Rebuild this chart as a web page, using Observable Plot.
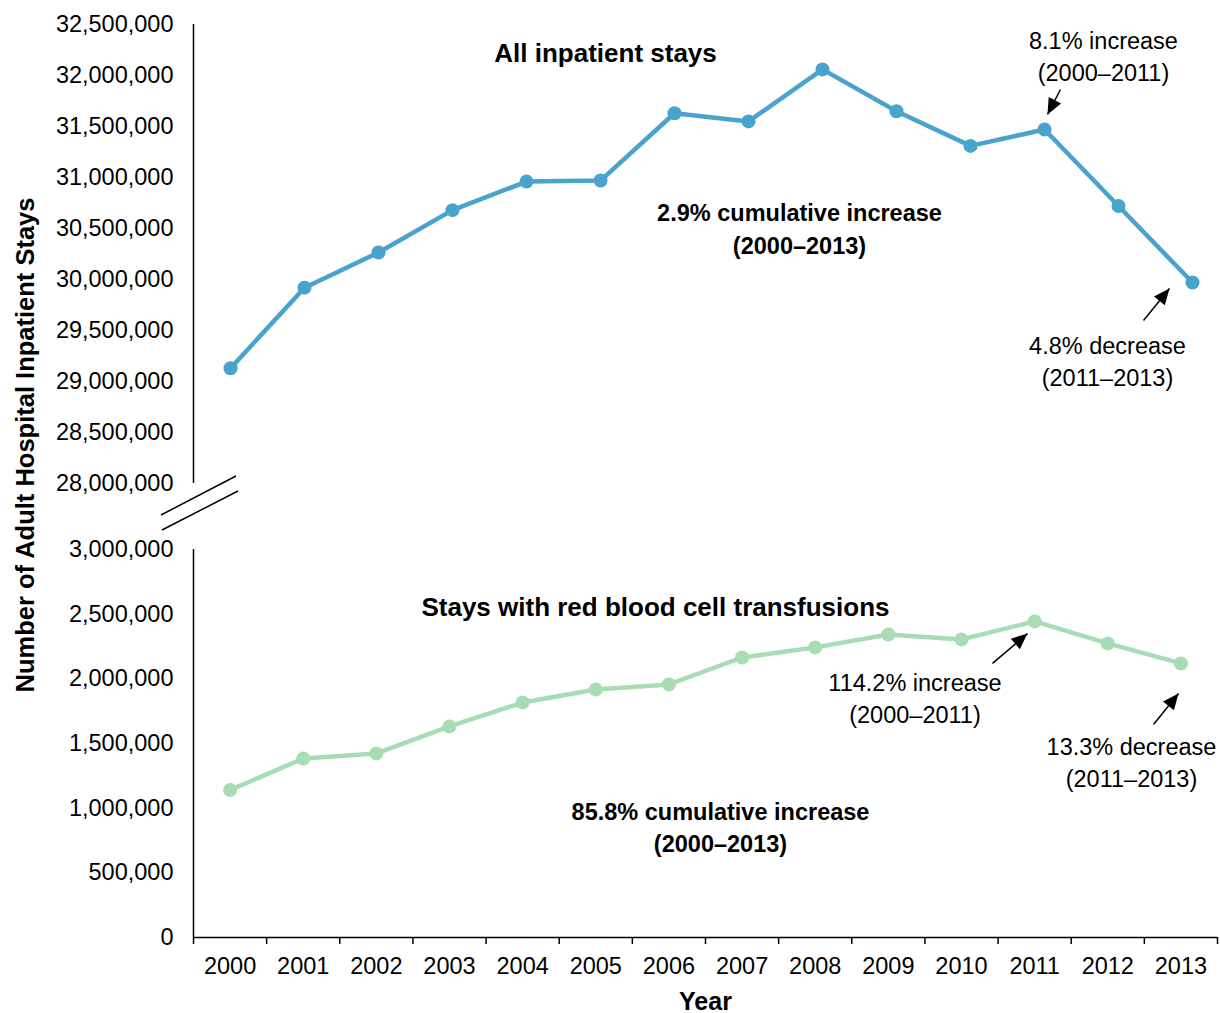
<!DOCTYPE html>
<html><head><meta charset="utf-8">
<script src="https://cdn.jsdelivr.net/npm/d3@7"></script>
<script src="https://cdn.jsdelivr.net/npm/@observablehq/plot@0.6"></script>
<style>
body{margin:0;background:#fff;}
#chart{position:relative;width:1220px;height:1013px;font-family:"Liberation Sans",Arial,sans-serif;}
#chart svg{position:absolute;left:0;}
</style></head><body><div id="chart"></div>
<script>
// ---- data ----
const years = [2000,2001,2002,2003,2004,2005,2006,2007,2008,2009,2010,2011,2012,2013];
const allStays = [29130000,29920000,30265000,30680000,30960000,30970000,31630000,31550000,32060000,31650000,31310000,31470000,30720000,29970000];
const transfusionStays = [1140000,1384000,1423000,1632000,1817000,1918000,1957000,2165000,2243000,2343000,2305000,2444000,2274000,2119000];
const topTicks = [28000000,28500000,29000000,29500000,30000000,30500000,31000000,31500000,32000000,32500000];
const bottomTicks = [0,500000,1000000,1500000,2000000,2500000,3000000];
const yearLabels = years.map(String);

const W = 1220;
const FONT = '"Liberation Sans", Arial, sans-serif';
const BLUE = "#4aa3cd";
const GREEN = "#a8dcb5";
const fmt = d3.format(",");
const boundaries = d3.range(years.length + 1).map(i => years[0] - 0.5 + i);

const topData = years.map((y, i) => ({year: y, value: allStays[i]}));
const botData = years.map((y, i) => ({year: y, value: transfusionStays[i]}));

function fixArrows(svg) {
  svg.querySelectorAll("marker").forEach(m => {
    m.setAttribute("viewBox", "-10 -10 20 20");
    m.setAttribute("markerUnits", "userSpaceOnUse");
    m.setAttribute("markerWidth", "20");
    m.setAttribute("markerHeight", "20");
    m.setAttribute("refX", "7");
    m.setAttribute("refY", "0");
    m.setAttribute("fill", "#000");
    m.setAttribute("stroke", "none");
    const p = m.querySelector("path");
    if (p) p.setAttribute("d", "M-9,-7L7,0L-9,7Z");
  });
}

const style = {fontFamily: FONT, fontSize: "23.5px", color: "#000", background: "transparent", overflow: "visible"};

const topPlot = Plot.plot({
  width: W, height: 500, marginLeft: 193, marginRight: 3, marginTop: 24, marginBottom: 17,
  style,
  x: {domain: [1999.5, 2013.5], range: [193, 1229], axis: null},
  y: {domain: [28000000, 32500000], axis: null},
  marks: [
    Plot.axisY(topTicks, {tickSize: 0, tickPadding: 20, tickFormat: fmt, label: null}),
    Plot.ruleX([1999.5], {stroke: "#000", strokeWidth: 1.5}),
    Plot.line(topData, {x: "year", y: "value", stroke: BLUE, strokeWidth: 4.5}),
    Plot.dot(topData, {x: "year", y: "value", fill: BLUE, r: 7}),
    Plot.text(["All inpatient stays"], {text: d => d, x: 2005.068, y: 32216000, fontWeight: "bold", fontSize: 26}),
    Plot.text(["2.9% cumulative increase\n(2000–2013)"], {text: d => d, x: 2007.689, y: 30485000, dy: -3, fontWeight: "bold", fontSize: 23.5, lineHeight: 1.38}),
    Plot.text(["8.1% increase\n(2000–2011)"], {text: d => d, x: 2011.797, y: 32176000, dy: -3, fontSize: 23.5, lineHeight: 1.38}),
    Plot.text(["4.8% decrease\n(2011–2013)"], {text: d => d, x: 2011.851, y: 29186000, dy: -3, fontSize: 23.5, lineHeight: 1.38}),
    Plot.link([{x1: 2011.216, y1: 31863000, x2: 2011.041, y2: 31618000}, {x1: 2012.338, y1: 29598000, x2: 2012.689, y2: 29912000}],
      {x1: "x1", y1: "y1", x2: "x2", y2: "y2", stroke: "#000", strokeWidth: 1.5, markerEnd: "arrow"})
  ]
});
topPlot.style.top = "0px";
fixArrows(topPlot);

const botPlot = Plot.plot({
  width: W, height: 513, marginLeft: 193, marginRight: 3, marginTop: 49, marginBottom: 76,
  style,
  x: {domain: [1999.5, 2013.5], axis: null},
  y: {domain: [0, 3000000], axis: null},
  marks: [
    Plot.axisY(bottomTicks, {tickSize: 0, tickPadding: 20, tickFormat: fmt, label: null}),
    Plot.axisX(boundaries, {tickSize: 7, tickFormat: () => "", label: null, strokeWidth: 1.5}),
    Plot.axisX(years, {tickSize: 0, tickPadding: 20, tickFormat: d => yearLabels[years.indexOf(d)], label: null}),
    Plot.ruleX([1999.5], {stroke: "#000", strokeWidth: 1.5}),
    Plot.ruleY([0], {stroke: "#000", strokeWidth: 1.5}),
    Plot.line(botData, {x: "year", y: "value", stroke: GREEN, strokeWidth: 4.5}),
    Plot.dot(botData, {x: "year", y: "value", fill: GREEN, r: 7}),
    Plot.text(["Stays with red blood cell transfusions"], {text: d => d, x: 2005.816, y: 2544000, dy: -1, fontWeight: "bold", fontSize: 26}),
    Plot.text(["85.8% cumulative increase\n(2000–2013)"], {text: d => d, x: 2006.705, y: 843000, dy: -3, fontWeight: "bold", fontSize: 23.5, lineHeight: 1.38}),
    Plot.text(["114.2% increase\n(2000–2011)"], {text: d => d, x: 2009.364, y: 1840000, dy: -3, fontSize: 23.5, lineHeight: 1.38}),
    Plot.text(["13.3% decrease\n(2011–2013)"], {text: d => d, x: 2012.324, y: 1345000, dy: -3, fontSize: 23.5, lineHeight: 1.38}),
    Plot.link([{x1: 2010.424, y1: 2119000, x2: 2010.902, y2: 2350000}, {x1: 2012.625, y1: 1647000, x2: 2012.967, y2: 1887000}],
      {x1: "x1", y1: "y1", x2: "x2", y2: "y2", stroke: "#000", strokeWidth: 1.5, markerEnd: "arrow"}),
    Plot.text(["Year"], {text: d => d, frameAnchor: "bottom", dy: 72, fontWeight: "bold", fontSize: 25})
  ]
});
botPlot.style.top = "500px";
fixArrows(botPlot);

const chart = document.getElementById("chart");
chart.appendChild(topPlot);
chart.appendChild(botPlot);

// overlay: shared y-axis title and axis-break marks
const ov = d3.select(chart).append("svg")
  .attr("width", W).attr("height", 1013)
  .style("top", "0px").style("pointer-events", "none");
ov.append("text")
  .attr("transform", "translate(25,445) rotate(-90)")
  .attr("text-anchor", "middle").attr("dominant-baseline", "central")
  .attr("font-family", FONT).attr("font-weight", "bold").attr("font-size", 25.5)
  .text("Number of Adult Hospital Inpatient Stays");
[[161, 515, 236, 476], [162, 530, 238, 491]].forEach(([a, b, c, d]) =>
  ov.append("line").attr("x1", a).attr("y1", b).attr("x2", c).attr("y2", d)
    .attr("stroke", "#000").attr("stroke-width", 1.5));
</script></body></html>
